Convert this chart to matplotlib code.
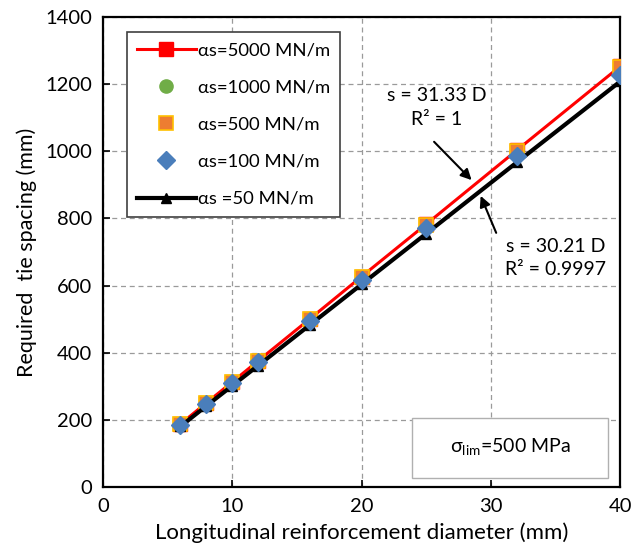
import numpy as np
import matplotlib
matplotlib.use("Agg")
import matplotlib.pyplot as plt
from matplotlib.patches import Rectangle

plt.rcParams.update({
    "font.family": ["Lato", "DejaVu Sans"],
    "font.size": 14,
    "mathtext.fontset": "custom",
    "mathtext.rm": "Lato",
})

# --- data ---
diameter = [6, 8, 10, 12, 16, 20, 25, 32, 40]
s_5000 = [188, 251, 313, 376, 501, 627, 783, 1003, 1253]
s_1000 = [187, 250, 312, 375, 500, 624, 779, 998, 1247]
s_500 = [188, 250, 312, 375, 500, 625, 780, 1000, 1250]
s_100 = [186, 248, 310, 372, 496, 618, 770, 985, 1228]
s_50 = [181, 242, 302, 362, 483, 604, 755, 967, 1208]

labels = ["αs=5000 MN/m", "αs=1000 MN/m", "αs=500 MN/m", "αs=100 MN/m", "αs =50 MN/m"]

fig = plt.figure(figsize=(6.35, 5.6), dpi=100)
ax = fig.add_axes([0.162, 0.130, 0.815, 0.840])

ax.plot(diameter, s_5000, color="#ff0000", lw=2.2, marker="s", ms=10,
        mfc="#ff0000", mec="#ff0000", label=labels[0], zorder=3)
ax.plot(diameter, s_1000, ls="none", marker="o", ms=9.5, color="#70ad47",
        label=labels[1], zorder=4)
ax.plot(diameter, s_500, ls="none", marker="s", ms=9.5, mfc="#ed7d31",
        mec="#ffc000", mew=1.2, label=labels[2], zorder=5)
ax.plot(diameter, s_100, ls="none", marker="D", ms=9.5, color="#4a7ebb",
        label=labels[3], zorder=7)
ax.plot(diameter, s_50, color="black", lw=3, marker="^", ms=7.5,
        label=labels[4], zorder=6)

ax.set_xlim(0, 40)
ax.set_ylim(0, 1400)
ax.set_xticks(np.arange(0, 41, 10))
ax.set_yticks(np.arange(0, 1401, 200))
ax.tick_params(direction="in", length=5, width=1.2, labelsize=14.5, pad=8)
ax.grid(True, ls=(0, (4, 3)), color="#9a9a9a", lw=0.9)
for sp in ax.spines.values():
    sp.set_linewidth(1.6)

ax.set_xlabel("Longitudinal reinforcement diameter (mm)", fontsize=16, labelpad=5)
ax.set_ylabel("Required  tie spacing (mm)", fontsize=15.5, labelpad=6)

leg = ax.legend(loc="upper left", bbox_to_anchor=(0.046, 0.968), fontsize=13.3,
                fancybox=False, framealpha=1, edgecolor="#404040",
                handlelength=3.2, labelspacing=1.15, borderpad=0.55,
                handletextpad=0.1, borderaxespad=0)
leg.get_frame().set_linewidth(1.2)

arrow = dict(arrowstyle="-|>", color="black", lw=1.5, shrinkA=0, shrinkB=0,
             mutation_scale=16)
ax.text(25.8, 1130, "s = 31.33 D\nR² = 1", ha="center", va="center",
        fontsize=14, linespacing=1.45)
ax.annotate("", xy=(28.5, 914), xytext=(25.6, 1028), arrowprops=arrow)
ax.text(35.0, 683, "s = 30.21 D\nR² = 0.9997", ha="center", va="center",
        fontsize=14, linespacing=1.45)
ax.annotate("", xy=(29.2, 867), xytext=(30.4, 757), arrowprops=arrow)

ax.add_patch(Rectangle((0.597, 0.02), 0.38, 0.128, transform=ax.transAxes,
                       fill=True, facecolor="white", edgecolor="#b0b0b0",
                       lw=1.0, zorder=8))
ax.text(0.787, 0.084, r"σ$_{\rm lim}$=500 MPa", transform=ax.transAxes,
        ha="center", va="center", fontsize=14, zorder=9)

fig.savefig("out.png", dpi=100)
